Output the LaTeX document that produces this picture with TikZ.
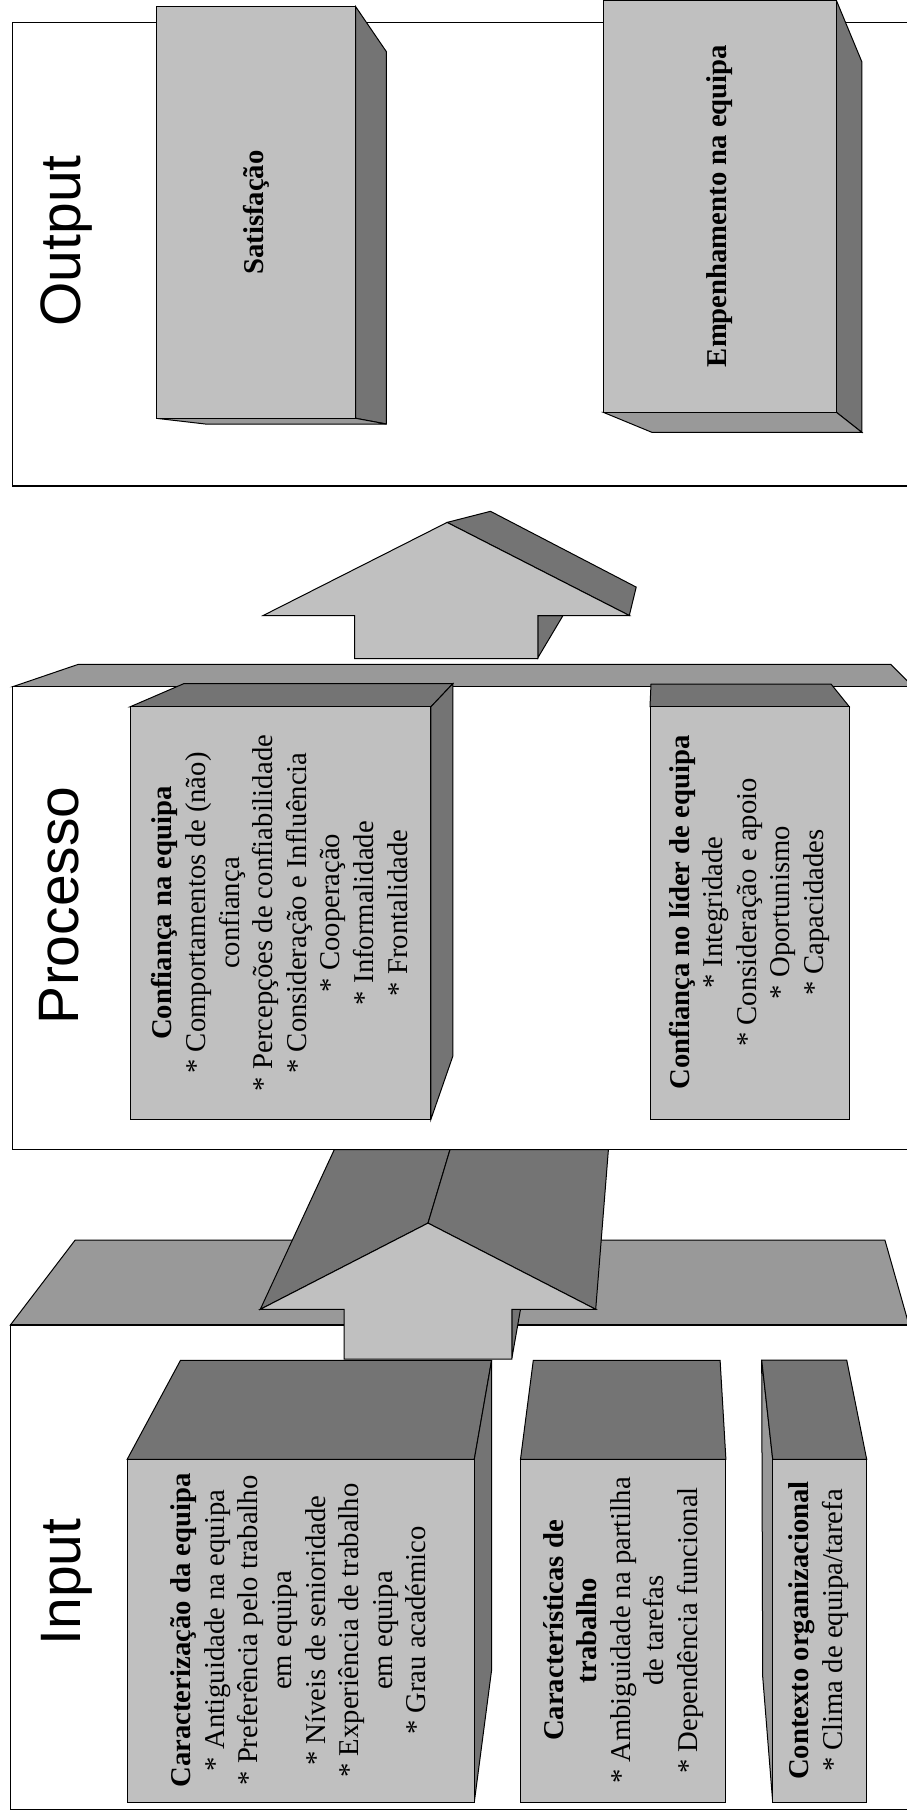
\documentclass[tikz,border=0pt]{standalone}
\usepackage{fontspec}
\setmainfont{Liberation Serif}
\newfontfamily\labelsans{Liberation Sans}
\definecolor{lightg}{HTML}{C0C0C0}
\definecolor{darkg}{HTML}{747474}
\definecolor{midg}{HTML}{999999}
\tikzset{
  frontface/.style={fill=lightg, draw=black, line width=1pt},
  darkface/.style={fill=darkg, draw=black, line width=1pt},
  midface/.style={fill=midg, draw=black, line width=1pt},
  framebox/.style={fill=white, draw=black, line width=1.3pt},
  sectionlabel/.style={font={\labelsans\fontsize{57}{60}\selectfont}, rotate=90, anchor=base, inner sep=0pt},
  boxtext/.style={font={\fontsize{28.7}{33.6}\selectfont}, rotate=90, align=center, inner sep=0pt},
}
\begin{document}
\begin{tikzpicture}[x=1pt, y=-1pt]
\clip (0,0) rectangle (907,1816);
\fill[white] (0,0) rectangle (907,1816);

% ---------------- Output ----------------
\draw[framebox] (12.7,22.3) rectangle (920,486);
% Satisfacao box
\draw[darkface] (355.7,6.7) -- (386.4,51.7) -- (386.4,424) -- (355.7,418.3) -- cycle;
\draw[midface] (156.2,418.3) -- (355.7,418.3) -- (386.4,424) -- (205.3,424) -- cycle;
\draw[frontface] (156.2,6.7) rectangle (355.7,418.3);
% Empenhamento box
\draw[darkface] (836.4,0.5) -- (861.8,61.7) -- (861.8,432.3) -- (836.4,412.3) -- cycle;
\draw[midface] (603.3,412.3) -- (836.4,412.3) -- (861.8,432.3) -- (651.8,432.3) -- cycle;
\draw[frontface] (603.3,0.5) rectangle (836.4,412.3);
\node[sectionlabel] (outlbl) at (80,240.8) {Output};
\node[boxtext] (sat) at (256,212.5) {\textbf{Satisfação}};
\node[boxtext] (emp) at (719.9,206) {\textbf{Empenhamento na equipa}};

% ---------------- upper arrow ----------------
\draw[darkface] (447.1,522.4) -- (490.5,511.3) -- (636.2,587.1) -- (629.3,615.5) -- cycle;
\draw[darkface] (537.9,615.5) -- (563,615.5) -- (537.9,657.7) -- cycle;
\draw[frontface] (263.2,615.5) -- (447.1,522.4) -- (629.3,615.5) -- (537.9,615.5) -- (537.9,658.6) -- (354.5,658.6) -- (354.5,615.5) -- cycle;

% ---------------- Processo ----------------
\draw[midface] (12.7,686.7) -- (78.1,664.4) -- (890.7,664.4) -- (913,686.7) -- cycle;
\draw[framebox] (12.7,686.7) rectangle (920,1149.6);
% Confianca na equipa
\draw[darkface] (130.1,706.8) -- (183.9,683.6) -- (452.9,683.6) -- (430.9,706.8) -- cycle;
\draw[darkface] (430.9,706.8) -- (452.9,683.6) -- (452.9,1055.9) -- (430.9,1119.3) -- cycle;
\draw[frontface] (130.1,706.8) rectangle (430.9,1119.3);
% Confianca no lider
\draw[darkface] (650,706.7) -- (651,684) -- (831,684) -- (849.3,706.7) -- cycle;
\draw[frontface] (650,706.7) rectangle (849.3,1119.3);
\node[sectionlabel] (proclbl) at (78,905.2) {Processo};
\node[boxtext] (confeq) at (279.5,913) {\textbf{Confiança na equipa}\\
* Comportamentos de (não)\\
confiança\\
* Percepções de confiabilidade\\
* Consideração e Influência\\
* Cooperação\\
* Informalidade\\
* Frontalidade};
\node[boxtext] (conflid) at (749.3,912.5) {\textbf{Confiança no líder de equipa}\\
* Integridade\\
* Consideração e apoio\\
* Oportunismo\\
* Capacidades};

% ---------------- Input ----------------
\draw[midface] (10.4,1325) -- (75.2,1240) -- (884.9,1240) -- (909,1325) -- cycle;
\draw[framebox] (10.4,1325) rectangle (920,1809.3);
% lower arrow
\draw[darkface] (260.3,1309.3) -- (428,1223.1) -- (450,1149.6) -- (334.3,1149.6) -- cycle;
\draw[darkface] (428,1223.1) -- (450,1149.6) -- (608.4,1149.6) -- (595.7,1309.3) -- cycle;
\draw[darkface] (511.9,1309.3) -- (520.5,1309.3) -- (511.9,1358) -- cycle;
\draw[frontface] (260.3,1309.3) -- (428,1223.1) -- (595.7,1309.3) -- (511.9,1309.3) -- (511.9,1359) -- (344.1,1359) -- (344.1,1309.3) -- cycle;
% Caracterizacao
\draw[darkface] (127.2,1459.3) -- (180.5,1360.3) -- (491.6,1360.3) -- (474.3,1459.3) -- cycle;
\draw[darkface] (474.3,1459.3) -- (491.6,1360.3) -- (491.6,1670) -- (474.3,1802) -- cycle;
\draw[frontface] (127.2,1459.3) rectangle (474.3,1802);
% Caracteristicas
\draw[darkface] (520.5,1459.3) -- (533.3,1360.3) -- (720.1,1360.3) -- (725.9,1459.3) -- cycle;
\draw[frontface] (520.5,1459.3) rectangle (725.9,1802);
% Contexto
\draw[midface] (761.7,1360) -- (772.7,1459.3) -- (772.7,1802) -- (762.7,1676.7) -- cycle;
\draw[darkface] (772.7,1459.3) -- (761.7,1360) -- (846.7,1360) -- (866.7,1459.3) -- cycle;
\draw[frontface] (772.7,1459.3) rectangle (866.7,1802);
\node[sectionlabel] (inlbl) at (80,1582) {Input};
\node[boxtext] (carac) at (298.5,1630.5) {\textbf{Caracterização da equipa}\\
* Antiguidade na equipa\\
* Preferência pelo trabalho\\
em equipa\\
* Níveis de senioridade\\
* Experiência de trabalho\\
em equipa\\
* Grau académico};
\node[boxtext] (caract) at (623.3,1630.5) {\textbf{Características de}\\
\textbf{trabalho}\\
* Ambiguidade na partilha\\
de tarefas\\
* Dependência funcional};
\node[boxtext] (contexto) at (818.5,1630.5) {\textbf{Contexto organizacional}\\
* Clima de equipa/tarefa};
\end{tikzpicture}
\end{document}
